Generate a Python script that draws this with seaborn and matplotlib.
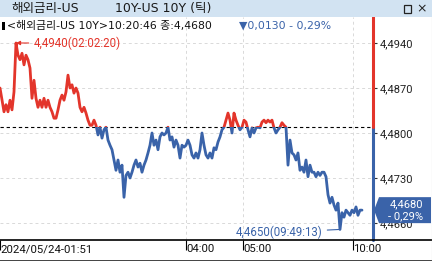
import matplotlib
matplotlib.use('Agg')
import matplotlib.pyplot as plt
import seaborn as sns
import pandas as pd
from matplotlib.patches import Rectangle, Polygon
from matplotlib.lines import Line2D

# ---- data ----
prices = [
    4.4870, 4.4851, 4.4833, 4.4844, 4.4833, 4.4851, 4.4836, 4.4864, 4.4940,
    4.4921, 4.4914, 4.4924, 4.4906, 4.4921, 4.4914, 4.4901,
    4.4854, 4.4882, 4.4854,
    4.4840, 4.4851, 4.4840, 4.4854, 4.4840, 4.4851, 4.4840, 4.4833,
    4.4823, 4.4823, 4.4836,
    4.4851, 4.4859, 4.4851, 4.4864,
    4.4890,
    4.4870, 4.4875, 4.4862, 4.4870, 4.4862,
    4.4840, 4.4833, 4.4840, 4.4831,
    4.4820, 4.4812, 4.4812, 4.4820, 4.4812,
    4.4797, 4.4809, 4.4792, 4.4805, 4.4809,
    4.4789, 4.4781, 4.4774,
    4.4758, 4.4742, 4.4758, 4.4739, 4.4750,
    4.4700,
    4.4734, 4.4739, 4.4730, 4.4739,
    4.4750, 4.4758, 4.4747, 4.4753,
    4.4739, 4.4750, 4.4758,
    4.4769, 4.4781, 4.4800,
    4.4781, 4.4789, 4.4774, 4.4794,
    4.4800, 4.4797, 4.4800,
    4.4809,
    4.4789, 4.4794, 4.4778, 4.4789, 4.4781,
    4.4761,
    4.4781, 4.4778, 4.4781, 4.4789, 4.4781,
    4.4766, 4.4761, 4.4769, 4.4761, 4.4774,
    4.4800,
    4.4781, 4.4766, 4.4761, 4.4769, 4.4761,
    4.4777, 4.4774, 4.4786,
    4.4794, 4.4805, 4.4809,
    4.4820, 4.4831, 4.4820, 4.4800, 4.4831, 4.4820, 4.4812,
    4.4805, 4.4809,
    4.4820, 4.4817,
    4.4805, 4.4794, 4.4808, 4.4800,
    4.4808, 4.4809, 4.4808,
    4.4817, 4.4820, 4.4816, 4.4820, 4.4817, 4.4820,
    4.4808, 4.4800, 4.4805, 4.4809,
    4.4816, 4.4812,
    4.4809, 4.4750,
    4.4789, 4.4769,
    4.4766, 4.4758, 4.4769,
    4.4742, 4.4747, 4.4739,
    4.4758, 4.4732, 4.4750, 4.4739,
    4.4739, 4.4732, 4.4739, 4.4734, 4.4739, 4.4739, 4.4732,
    4.4704, 4.4691, 4.4700,
    4.4688, 4.4680, 4.4691,
    4.4650,
    4.4676, 4.4669, 4.4680, 4.4676, 4.4672, 4.4680, 4.4676, 4.4685, 4.4672, 4.4680, 4.4680,
]
ref_price = 4.4810
last_price = 4.4680
last_label = "4,4680"
pct_label = "- 0,29%"
title_left = "해외금리-US"
title_right = "10Y-US 10Y (틱)"
header_black = "<해외금리-US 10Y>10:20:46 종:4,4680"
header_blue = "▼0,0130 - 0,29%"
y_ticks = [4.4940, 4.4870, 4.4800, 4.4730, 4.4660]
y_tick_labels = ["4,4940", "4,4870", "4,4800", "4,4730", "4,4660"]
x_tick_pos = [0, 93, 121.5, 176.5]
x_tick_labels = ["2024/05/24-01:51", "04:00", "05:00", "10:00"]
high_label = "4,4940(02:02:20)"
low_label = "4,4650(09:49:13)"

RED = '#e3352b'
BLUE = '#3a63a9'
W, H = 432, 261
MIX = ['DejaVu Sans', 'Noto Sans CJK KR']
NUM = ['Roboto', 'DejaVu Sans']

sns.set_style('white')
plt.rcParams['font.family'] = ['Noto Sans CJK KR', 'DejaVu Sans']

fig = plt.figure(figsize=(W / 100, H / 100), dpi=100)
fig.patch.set_facecolor('white')

def fx(x):
    return x / W

def fy(y):
    return 1 - y / H

ax_top, ax_bot, ax_right = 17, 240, 373
ax = fig.add_axes([0, fy(ax_bot), fx(ax_right), (ax_bot - ax_top) / H])
ax.set_facecolor('white')

df = pd.DataFrame({'tick': range(len(prices)), 'price': prices})
sns.lineplot(data=df, x='tick', y='price', ax=ax, color=BLUE, lw=2.0)
sns.lineplot(data=df, x='tick', y='price', ax=ax, color=RED, lw=2.0)
line_blue, line_red = ax.lines[0], ax.lines[1]

ylo = 4.4940 - (ax_bot - 43) * 0.007 / 45
yhi = 4.4940 + (43 - ax_top) * 0.007 / 45
xmax = ax_right / 2
ax.set_xlim(0, xmax)
ax.set_ylim(ylo, yhi)

clip_red = Rectangle((-10, ref_price), 1000, 1, transform=ax.transData)
clip_blue = Rectangle((-10, ref_price - 1), 1000, 1, transform=ax.transData)
line_red.set_clip_path(clip_red)
line_blue.set_clip_path(clip_blue)

# grid
for yt in y_ticks:
    ax.axhline(yt, color='#d9d9d9', lw=0.7, ls=(0, (3, 3)), zorder=0)
for xt in x_tick_pos[1:]:
    ax.axvline(xt, color='#d9d9d9', lw=0.7, ls=(0, (3, 3)), zorder=0)
ax.axhline(ref_price, color='black', lw=0.8, ls=(0, (3, 2.5)), zorder=1)

ax.set_xlabel('')
ax.set_ylabel('')
for s in ['top', 'left', 'right', 'bottom']:
    ax.spines[s].set_visible(False)

ref_frac = (ref_price - ylo) / (yhi - ylo)
ax.axvline(xmax, ymin=0, ymax=ref_frac, color=BLUE, lw=2.2, clip_on=False)
ax.axvline(xmax, ymin=ref_frac, ymax=1, color=RED, lw=2.2, clip_on=False)

ax.yaxis.tick_right()
ax.set_yticks(y_ticks, y_tick_labels)
ax.tick_params(axis='y', length=3, width=0.8, color='#333333', pad=1.5,
               labelsize=8, labelcolor='#222222', right=True, left=False)
ax.set_xticks(x_tick_pos, x_tick_labels)
ax.tick_params(axis='x', length=7, width=0.8, color='black', pad=-4,
               labelsize=8.2, labelcolor='#111111', bottom=True)
for lab in ax.get_xticklabels():
    lab.set_ha('left')
    lab.set_fontfamily(NUM)
for lab in ax.get_yticklabels():
    lab.set_fontfamily(NUM)

# high / low annotations
i_hi = prices.index(max(prices))
i_lo = prices.index(min(prices))
ax.annotate(high_label, xy=(i_hi, prices[i_hi]), xytext=(12.5, 0), textcoords='offset points',
            ha='left', va='center', color=RED, fontsize=8.3, family=NUM,
            arrowprops=dict(arrowstyle='-|>', color=RED, lw=0.8, mutation_scale=6,
                            shrinkA=1, shrinkB=0))
ax.annotate(low_label, xy=(i_lo, prices[i_lo]), xytext=(-12.5, -2.2), textcoords='offset points',
            ha='right', va='center', color=BLUE, fontsize=8.3, family=NUM,
            arrowprops=dict(arrowstyle='-', color=BLUE, lw=0.8, shrinkA=1, shrinkB=0))

# bottom axis line across full width and frame
fig.add_artist(Line2D([0, 1], [fy(240), fy(240)], transform=fig.transFigure, color='black', lw=1.2))
fig.add_artist(Line2D([0, 1], [fy(260.5), fy(260.5)], transform=fig.transFigure, color='#222222', lw=1.2))
fig.add_artist(Line2D([fx(431.5), fx(431.5)], [fy(17), fy(261)], transform=fig.transFigure,
                      color='#bbbbbb', lw=0.8))

# current price box
_, ypix = ax.transData.transform((0, last_price))
yb = H - ypix
box = Polygon([(fx(374), fy(yb)), (fx(379), fy(yb - 13)), (fx(431), fy(yb - 13)),
               (fx(431), fy(yb + 13)), (fx(379), fy(yb + 13))],
              closed=True, transform=fig.transFigure, facecolor=BLUE, edgecolor='none')
fig.add_artist(box)
fig.text(fx(406), fy(yb - 6), last_label, color='white', fontsize=8, ha='center', va='center',
         family=NUM)
fig.text(fx(406), fy(yb + 6.5), pct_label, color='white', fontsize=8, ha='center', va='center',
         family=NUM)

# title bar
fig.add_artist(Rectangle((0, fy(16.5)), 1, 16.5 / H, transform=fig.transFigure,
                         facecolor='#d2e3f2', edgecolor='none'))
fig.text(fx(11), fy(8.5), title_left, fontsize=9, ha='left', va='center', color='#1a1a1a',
         family=MIX)
fig.text(fx(115), fy(8.5), title_right, fontsize=9, ha='left', va='center', color='#1a1a1a',
         family=MIX)
fig.add_artist(Rectangle((fx(404), fy(13)), 7 / W, 8 / H, transform=fig.transFigure,
                         facecolor='none', edgecolor='#222222', lw=0.9))
fig.text(fx(421.5), fy(8.5), "×", fontsize=9, ha='center', va='center', color='#222222',
         family=['DejaVu Sans'])

# header line
fig.add_artist(Rectangle((fx(2), fy(30)), 3 / W, 8 / H, transform=fig.transFigure,
                         facecolor='black', edgecolor='none'))
fig.text(fx(7), fy(26), header_black, fontsize=7.8, ha='left', va='center', color='#111111',
         family=MIX)
fig.text(fx(239), fy(26), header_blue, fontsize=7.8, ha='left', va='center', color=BLUE,
         family=MIX)

fig.savefig('out.png', dpi=100, facecolor='white')
